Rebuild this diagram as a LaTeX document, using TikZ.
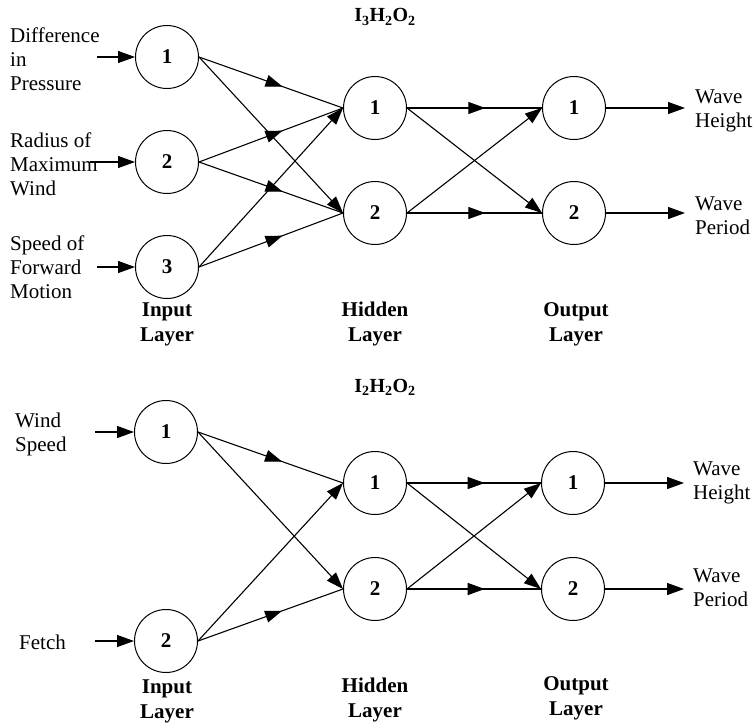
\documentclass[tikz,border=0pt]{standalone}
\usepackage{fontspec}
\setmainfont{Liberation Serif}
\usetikzlibrary{arrows.meta,decorations.markings}
\begin{document}
\begin{tikzpicture}[x=1pt,y=-1pt,
  neuron/.style={circle,draw,line width=1pt,minimum size=63pt,inner sep=0pt,font=\fontsize{21}{24}\selectfont\bfseries},
  lbl/.style={anchor=west,align=left,inner sep=0pt,font=\fontsize{21}{24}\selectfont},
  layer/.style={align=center,inner sep=0pt,font=\fontsize{21}{25}\selectfont\bfseries},
  ttl/.style={inner sep=0pt,font=\fontsize{20}{24}\selectfont\bfseries},
  conn/.style={line width=1.1pt},
  endarr/.style={conn,-{Triangle[length=17pt,width=12pt]}},
  midarr/.style={conn,postaction={decorate},decoration={markings,mark=at position 0.58 with {\arrow{Triangle[length=17pt,width=12pt]}}}}
]
\useasboundingbox (0,0) rectangle (755,726);

% ---------- top network ----------
\node[ttl] (t1) at (385,17) {I\textsubscript{3}H\textsubscript{2}O\textsubscript{2}};
\node[neuron] (a1) at (167,57) {1};
\node[neuron] (a2) at (167,162) {2};
\node[neuron] (a3) at (167,267) {3};
\node[neuron] (b1) at (375,108) {1};
\node[neuron] (b2) at (375,213) {2};
\node[neuron] (c1) at (574,108) {1};
\node[neuron] (c2) at (574,213) {2};

\node[lbl] (la1) at (10,59) {Difference\\in\\Pressure};
\node[lbl] (la2) at (10,164) {Radius of\\Maximum\\Wind};
\node[lbl] (la3) at (10,267) {Speed of\\Forward\\Motion};
\node[lbl] (lc1) at (695,111) {Wave\\Height};
\node[lbl] (lc2) at (695,216) {Wave\\Period};

\coordinate (ia1) at (97,57);
\coordinate (ia2) at (90,162);
\coordinate (ia3) at (97,267);
\coordinate (oc1) at (685,108);
\coordinate (oc2) at (685,213);

\draw[endarr] (ia1) -- (a1.west);
\draw[endarr] (ia2) -- (a2.west);
\draw[endarr] (ia3) -- (a3.west);
\draw[endarr] (c1.east) -- (oc1);
\draw[endarr] (c2.east) -- (oc2);

\draw[midarr] (a1.east) -- (b1.west);
\draw[endarr] (a1.east) -- (b2.west);
\draw[midarr] (a2.east) -- (b1.west);
\draw[midarr] (a2.east) -- (b2.west);
\draw[endarr] (a3.east) -- (b1.west);
\draw[midarr] (a3.east) -- (b2.west);

\draw[midarr] (b1.east) -- (c1.west);
\draw[endarr] (b1.east) -- (c2.west);
\draw[endarr] (b2.east) -- (c1.west);
\draw[midarr] (b2.east) -- (c2.west);

\node[layer] (ly1) at (167,324) {Input\\Layer};
\node[layer] (ly2) at (375,324) {Hidden\\Layer};
\node[layer] (ly3) at (576,324) {Output\\Layer};

% ---------- bottom network ----------
\node[ttl] (t2) at (385,387) {I\textsubscript{2}H\textsubscript{2}O\textsubscript{2}};
\node[neuron] (d1) at (166,432) {1};
\node[neuron] (d2) at (166,641) {2};
\node[neuron] (e1) at (375,483) {1};
\node[neuron] (e2) at (375,589) {2};
\node[neuron] (f1) at (573,483) {1};
\node[neuron] (f2) at (573,589) {2};

\node[lbl] (ld1) at (15,434) {Wind\\Speed};
\node[lbl] (ld2) at (19,642) {Fetch};
\node[lbl] (lf1) at (693,483) {Wave\\Height};
\node[lbl] (lf2) at (693,588) {Wave\\Period};

\coordinate (id1) at (95,432);
\coordinate (id2) at (95,641);
\coordinate (of1) at (684,483);
\coordinate (of2) at (684,589);

\draw[endarr] (id1) -- (d1.west);
\draw[endarr] (id2) -- (d2.west);
\draw[endarr] (f1.east) -- (of1);
\draw[endarr] (f2.east) -- (of2);

\draw[midarr] (d1.east) -- (e1.west);
\draw[endarr] (d1.east) -- (e2.west);
\draw[endarr] (d2.east) -- (e1.west);
\draw[midarr] (d2.east) -- (e2.west);

\draw[midarr] (e1.east) -- (f1.west);
\draw[endarr] (e1.east) -- (f2.west);
\draw[endarr] (e2.east) -- (f1.west);
\draw[midarr] (e2.east) -- (f2.west);

\node[layer] (ly4) at (167,701) {Input\\Layer};
\node[layer] (ly5) at (375,700) {Hidden\\Layer};
\node[layer] (ly6) at (576,698) {Output\\Layer};
\end{tikzpicture}
\end{document}
